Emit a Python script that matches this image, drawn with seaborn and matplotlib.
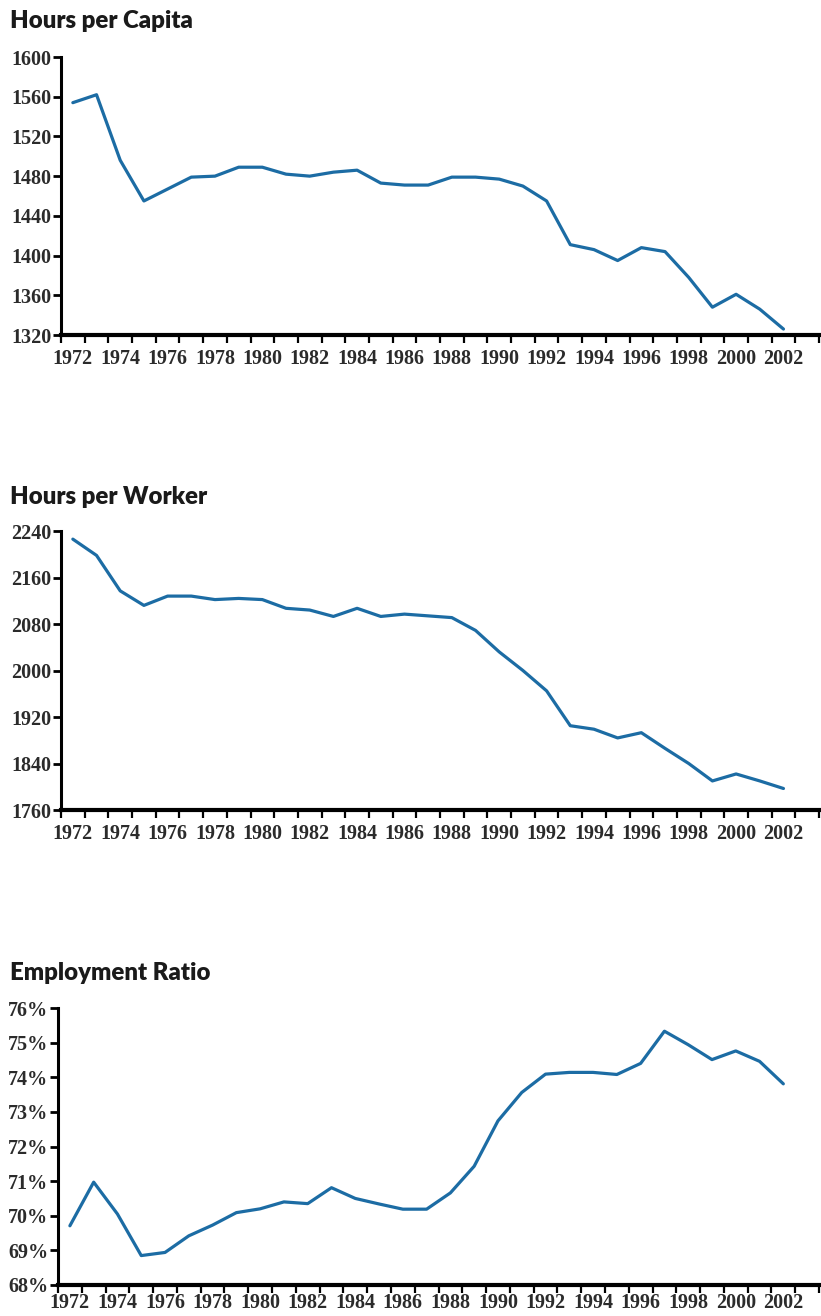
import numpy as np
import pandas as pd
import matplotlib
matplotlib.use("Agg")
import matplotlib.pyplot as plt
import seaborn as sns
from matplotlib.ticker import FixedLocator, FuncFormatter

# ---------------- DATA ----------------
years = list(range(1972, 2003))

hours_per_capita = [1554, 1562, 1496, 1455, 1467, 1479, 1480, 1489, 1489, 1482,
                    1480, 1484, 1486, 1473, 1471, 1471, 1479, 1479, 1477, 1470,
                    1455, 1411, 1406, 1395, 1408, 1404, 1378, 1348, 1361, 1346,
                    1326]

hours_per_worker = [2226, 2198, 2137, 2112, 2128, 2128, 2122, 2124, 2122, 2107,
                    2104, 2093, 2107, 2093, 2097, 2094, 2091, 2069, 2032, 2000,
                    1965, 1905, 1899, 1884, 1893, 1866, 1840, 1810, 1822, 1810,
                    1797]

employment_ratio = [69.71, 70.97, 70.05, 68.85, 68.94, 69.42, 69.73, 70.09, 70.20, 70.40,
                    70.35, 70.81, 70.50, 70.34, 70.19, 70.19, 70.66, 71.43, 72.74, 73.56,
                    74.09, 74.14, 74.14, 74.08, 74.40, 75.33, 74.94, 74.51, 74.76, 74.46,
                    73.81]

titles = ["Hours per Capita", "Hours per Worker", "Employment Ratio"]
y_ticks = [list(range(1320, 1601, 40)), list(range(1760, 2241, 80)), list(range(68, 77))]
x_labels = list(range(1972, 2003, 2))
# --------------------------------------

LINE_COLOR = "#1c6ca4"
TEXT_COLOR = "#2b2b2b"
W, H = 821, 1316

sns.set_style("ticks")
plt.rcParams["font.family"] = ["Liberation Serif", "DejaVu Serif"]

fig = plt.figure(figsize=(W / 100, H / 100), dpi=100)

# pixel boxes: left, top, right, bottom, title baseline, x label pad
boxes = [(61, 57, 819, 335, 28, 10), (61, 531, 819, 810, 504, 10), (58, 1008, 819, 1285, 980, 6)]
series = [hours_per_capita, hours_per_worker, employment_ratio]

for i, (vals, box) in enumerate(zip(series, boxes)):
    l, t, r, b, tb, xpad = box
    ax = fig.add_axes([l / W, 1 - b / H, (r - l) / W, (b - t) / H])
    df = pd.DataFrame({"year": years, "value": vals})
    sns.lineplot(data=df, x="year", y="value", ax=ax, color=LINE_COLOR, linewidth=2.3)

    ax.set_xlim(1971.5, 2003.5)
    ax.set_ylim(y_ticks[i][0], y_ticks[i][-1])
    ax.set_xlabel("")
    ax.set_ylabel("")

    ax.xaxis.set_major_locator(FixedLocator(x_labels))
    ax.xaxis.set_minor_locator(FixedLocator(np.arange(1971.5, 2004, 1)))
    ax.set_yticks(y_ticks[i])
    if i == 2:
        ax.yaxis.set_major_formatter(FuncFormatter(lambda v, p: f"{int(v)}%"))

    ax.tick_params(axis="x", which="major", length=0, pad=xpad,
                   labelsize=14.5, labelcolor=TEXT_COLOR)
    ax.tick_params(axis="x", which="minor", length=6, width=1.6, color="black", direction="out")
    ax.tick_params(axis="y", which="major", length=6, width=2, color="black", pad=1,
                   labelsize=14.5, labelcolor=TEXT_COLOR)
    for lab in ax.get_xticklabels() + ax.get_yticklabels():
        lab.set_fontweight("bold")

    for s in ["top", "right"]:
        ax.spines[s].set_visible(False)
    ax.spines["left"].set_linewidth(2.2)
    ax.spines["bottom"].set_linewidth(3)
    ax.spines["left"].set_color("black")
    ax.spines["bottom"].set_color("black")

    fig.text(10 / W, 1 - tb / H, titles[i], ha="left", va="baseline",
             fontsize=17.3, fontweight="heavy", color="#1a1a1a",
             family=["Lato", "DejaVu Sans"])

fig.savefig("out.png", dpi=100, facecolor="white")
